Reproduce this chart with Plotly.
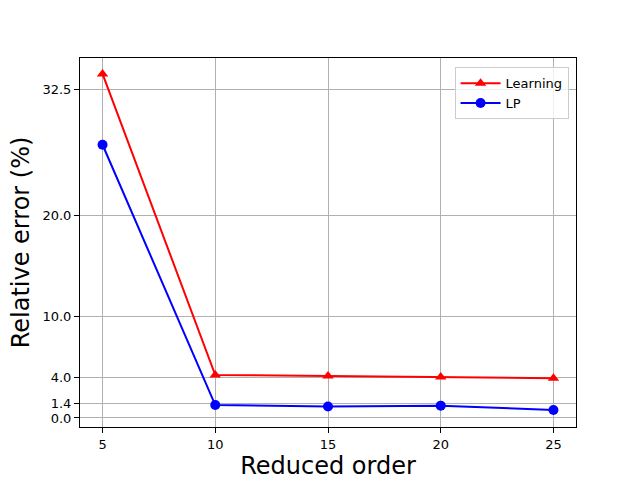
import plotly.graph_objects as go

orders = [5, 10, 15, 20, 25]
learning = [34.0, 4.25, 4.15, 4.05, 3.92]
lp = [27.0, 1.28, 1.14, 1.22, 0.79]
ytick_vals = [0.0, 1.4, 4.0, 10.0, 20.0, 32.5]
ytick_text = ["0.0", "1.4", "4.0", "10.0", "20.0", "32.5"]
xtick_vals = [5, 10, 15, 20, 25]

fig = go.Figure()
fig.add_trace(go.Scatter(x=orders, y=learning, mode="lines+markers", name="Learning",
                         line=dict(color="red", width=2),
                         marker=dict(symbol="triangle-up", size=10, color="red")))
fig.add_trace(go.Scatter(x=orders, y=lp, mode="lines+markers", name="LP",
                         line=dict(color="blue", width=2),
                         marker=dict(symbol="circle", size=10, color="blue")))

axis_common = dict(showline=True, linecolor="black", linewidth=1, mirror=True,
                   ticks="outside", ticklen=5, tickcolor="black",
                   showgrid=True, gridcolor="#b0b0b0", gridwidth=1, zeroline=False,
                   automargin=False,
                   tickfont=dict(size=13, color="black"))

fig.update_xaxes(range=[4, 26], tickvals=xtick_vals,
                 title=dict(text="Reduced order", font=dict(size=24, color="black"), standoff=8),
                 **axis_common)
fig.update_yaxes(range=[-0.89, 35.57], tickvals=ytick_vals, ticktext=ytick_text,
                 title=dict(text="Relative error (%)", font=dict(size=24, color="black"), standoff=6),
                 **axis_common)

fig.update_layout(
    width=640, height=480,
    margin=dict(l=80, r=64, t=58, b=53),
    paper_bgcolor="white", plot_bgcolor="white",
    font=dict(family="DejaVu Sans", color="black"),
    showlegend=True,
    legend=dict(x=0.985, y=0.975, xanchor="right", yanchor="top",
                bgcolor="rgba(255,255,255,0.8)", bordercolor="#cccccc", borderwidth=1,
                font=dict(size=13), tracegroupgap=0, itemwidth=40),
)

fig.write_html("out.html", config={"displayModeBar": False},
               post_script="document.body.style.margin='0';document.body.style.overflow='hidden';")
